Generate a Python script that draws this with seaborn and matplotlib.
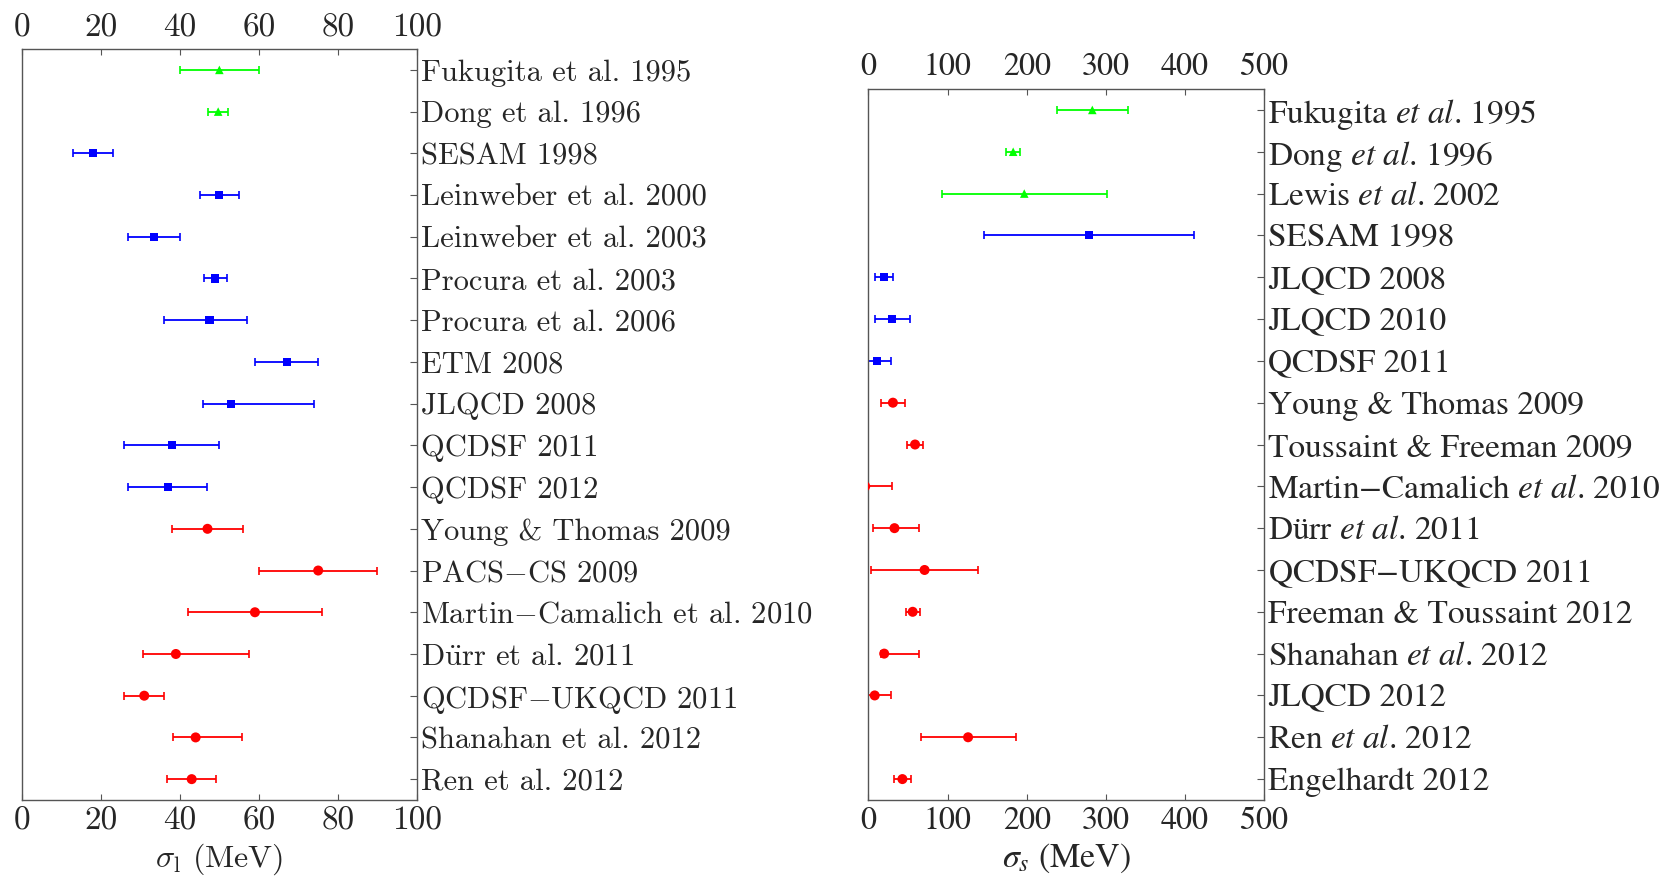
import matplotlib
matplotlib.use("Agg")
import matplotlib.pyplot as plt
import seaborn as sns
import numpy as np
import pandas as pd

# left panel: sigma_l
left_labels = ["Fukugita et al. 1995", "Dong et al. 1996", "SESAM 1998",
               "Leinweber et al. 2000", "Leinweber et al. 2003", "Procura et al. 2003",
               "Procura et al. 2006", "ETM 2008", "JLQCD 2008", "QCDSF 2011",
               "QCDSF 2012", "Young & Thomas 2009", "PACS$-$CS 2009",
               "Martin$-$Camalich et al. 2010", r"D$\ddot{\mathrm{u}}$rr et al. 2011",
               "QCDSF$-$UKQCD 2011", "Shanahan et al. 2012", "Ren et al. 2012"]
left_val = [50, 49.7, 18, 50, 33.5, 49, 47.5, 67, 53, 38, 37, 47, 75, 59, 39, 31, 44, 43]
left_lo = [10, 2.6, 5, 5, 6.6, 3, 11.6, 8, 7.2, 12, 10, 9, 15, 17, 8.2, 5, 5.7, 6.2]
left_hi = [10, 2.6, 5, 5, 6.6, 3, 9.5, 8, 21, 12, 10, 9, 15, 17, 18.6, 5, 11.8, 6.1]
left_grp = ["g"] * 2 + ["b"] * 9 + ["r"] * 7

# right panel: sigma_s
right_labels = [r"Fukugita $\mathit{et\ al}$. 1995", r"Dong $\mathit{et\ al}$. 1996",
                r"Lewis $\mathit{et\ al}$. 2002", "SESAM 1998", "JLQCD 2008", "JLQCD 2010",
                "QCDSF 2011", "Young & Thomas 2009", "Toussaint & Freeman 2009",
                r"Martin$-$Camalich $\mathit{et\ al}$. 2010", r"Dürr $\mathit{et\ al}$. 2011",
                r"QCDSF$-$UKQCD 2011", "Freeman & Toussaint 2012",
                r"Shanahan $\mathit{et\ al}$. 2012", "JLQCD 2012",
                r"Ren $\mathit{et\ al}$. 2012", "Engelhardt 2012"]
right_val = [283, 183, 197, 279, 19.5, 30, 11, 31, 59, -4, 33, 71, 56, 20, 8, 126, 43]
right_lo = [45, 8.5, 104, 133, 11.5, 22, 11, 15, 10, 23, 27, 68, 8.5, 4, 8, 59, 10]
right_hi = [45, 8.5, 104, 133, 12, 22, 17, 15, 10, 34, 31, 68, 9, 44, 21, 60, 11]
right_grp = ["g"] * 3 + ["b"] * 4 + ["r"] * 10

palette = {"g": "#00ff00", "b": "#0000ff", "r": "#ff0000"}
markers = {"g": "^", "b": "s", "r": "o"}
sizes = {"g": 38, "b": 34, "r": 52}

sns.set_style("ticks")
plt.rcParams["axes.formatter.use_mathtext"] = True

fig = plt.figure(figsize=(16.61, 8.77), dpi=100)
ax1 = fig.add_axes([0.01306, 0.0878, 0.238, 0.8563])
ax2 = fig.add_axes([0.5228, 0.0878, 0.2382, 0.8107])


def panel(ax, labels, val, lo, hi, grp, xmax, xticks, fam, mfam, xlabel,
          lab_size, tick_size, xl_size):
    pos = np.arange(len(labels))
    df = pd.DataFrame({"val": val, "pos": pos, "grp": grp})
    for g in ["g", "b", "r"]:
        sub = df[df.grp == g]
        idx = sub.index
        ax.errorbar(sub.val, sub.pos,
                    xerr=[np.array(lo)[idx], np.array(hi)[idx]],
                    fmt="none", ecolor=palette[g], elinewidth=1.3,
                    capsize=3, capthick=1.2, zorder=2)
    sns.scatterplot(data=df, x="val", y="pos", hue="grp", style="grp", size="grp",
                    palette=palette, markers=markers, sizes=sizes,
                    edgecolor="none", legend=False, ax=ax, zorder=3)
    ax.set_xlim(0, xmax)
    ax.set_ylim(len(labels) - 0.5, -0.5)
    ax.set_xticks(xticks, [str(t) for t in xticks])
    ax.set_yticks(pos, labels)
    ax.set_ylabel("")
    ax.set_xlabel(xlabel, fontsize=xl_size, family=fam, math_fontfamily=mfam, labelpad=4)
    ax.tick_params(axis="x", direction="in", top=True, bottom=True,
                   labeltop=True, labelbottom=True, length=4, width=0.8,
                   color="#555555", labelsize=tick_size, pad=5)
    ax.tick_params(axis="y", direction="in", left=False, right=True,
                   labelleft=False, labelright=True, length=5, width=0.8,
                   color="#555555", labelsize=lab_size, pad=3)
    for t in ax.get_xticklabels() + ax.get_yticklabels():
        t.set_family(fam)
        t.set_math_fontfamily(mfam)
    for sp in ax.spines.values():
        sp.set_color("#555555")
        sp.set_linewidth(1.0)
        sp.set_visible(True)


panel(ax1, left_labels, left_val, left_lo, left_hi, left_grp, 100,
      [0, 20, 40, 60, 80, 100], ["cmr10", "DejaVu Serif"], "cm",
      r"$\sigma_{\mathrm{l}}$ (MeV)", 22, 24, 23)
panel(ax2, right_labels, right_val, right_lo, right_hi, right_grp, 500,
      [0, 100, 200, 300, 400, 500], ["STIXGeneral", "DejaVu Serif"], "stix",
      r"$\sigma_s$ (MeV)", 24, 23, 24.5)

fig.savefig("out.png", dpi=100)
